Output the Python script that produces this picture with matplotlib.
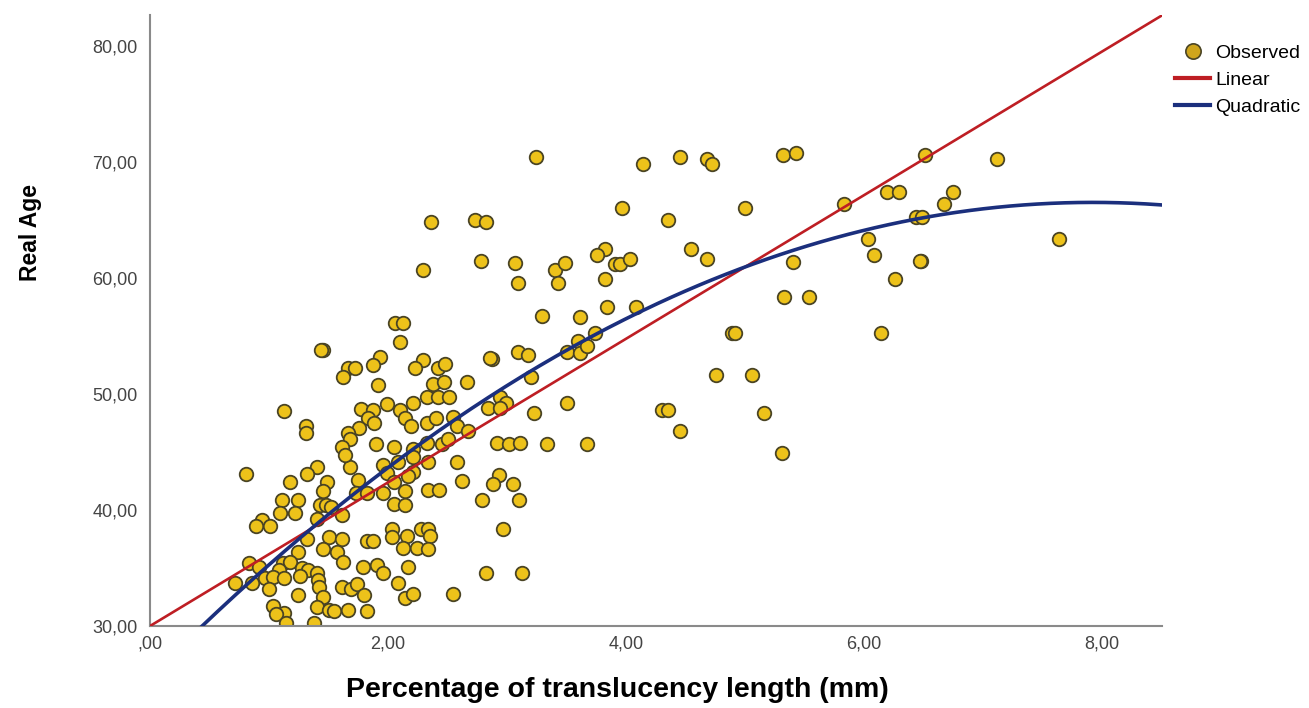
import numpy as np
import matplotlib
matplotlib.use("Agg")
import matplotlib.pyplot as plt
from matplotlib.ticker import FuncFormatter
from matplotlib.lines import Line2D

# observed points (x = translucency, y = real age)
trans_len = [
    0.81, 1.40, 1.32, 1.18, 1.49, 1.45, 1.68, 1.75, 1.96, 1.99,
    1.11, 1.24, 1.09, 1.22, 1.43, 1.48, 1.52, 0.94, 0.89, 1.01,
    1.40, 1.61, 1.73, 1.82, 1.96, 2.05, 1.32, 1.50, 1.61, 1.82,
    1.87, 2.03, 2.03, 1.24, 1.45, 1.57, 1.62, 0.83, 0.92, 1.12,
    1.18, 1.08, 1.28, 1.33, 1.40, 0.71, 0.86, 0.97, 1.03, 1.13,
    1.26, 1.41, 1.00, 1.42, 1.79, 1.91, 1.96, 1.61, 1.69, 1.74,
    1.80, 2.08, 1.24, 1.45, 1.03, 1.13, 1.06, 1.40, 1.50, 1.55,
    1.66, 1.82, 1.14, 1.38,
    2.08, 2.34, 2.58, 2.21, 2.17, 2.05, 2.14, 2.34, 2.43, 2.62,
    2.93, 2.88, 3.05, 2.79, 3.10, 2.14, 2.16, 2.28, 2.34, 2.35,
    2.13, 2.24, 2.34, 2.97, 2.17, 2.82, 3.13, 2.14, 2.21, 2.55,
    1.45, 1.44, 2.06, 2.10, 1.93, 1.87, 1.66, 1.72, 1.62, 1.92,
    1.13, 1.31, 1.31, 1.77, 1.87, 1.99, 1.83, 1.88, 1.76, 1.66,
    1.68, 1.61, 1.90, 2.05, 1.64, 2.10,
    2.13, 3.29, 2.29, 2.23, 2.42, 2.48, 2.38, 2.47, 2.66, 2.87,
    2.86, 3.09, 3.18, 3.50, 3.20, 2.33, 2.42, 2.51, 2.21, 2.14,
    2.19, 2.33, 2.40, 2.55, 2.58, 2.67, 2.84, 2.94, 2.99, 2.94,
    3.23, 3.50, 2.21, 2.21, 2.33, 2.45, 2.50, 2.92, 3.02, 3.11,
    3.34,
    3.24, 2.36, 2.73, 2.82, 2.29, 2.78, 3.07, 3.09, 3.40, 3.43,
    4.14, 4.45, 4.68, 4.72, 5.32, 5.43, 3.97, 4.35, 5.00, 5.83,
    3.82, 3.76, 3.49, 3.91, 3.95, 4.03, 3.82, 4.55, 4.68, 5.40,
    5.33, 5.54, 3.84, 4.08, 3.61,
    3.74, 3.60, 3.61, 3.67, 4.89, 4.92, 4.76, 5.06, 4.30, 4.35,
    5.16, 4.45, 3.67, 5.31,
    6.51, 7.12, 6.19, 6.29, 6.75, 6.67, 6.44, 6.49, 6.03, 6.08,
    6.48, 6.47, 6.26, 6.14, 7.64,
]
real_age = [
    43.1, 43.7, 43.1, 42.4, 42.4, 41.6, 43.7, 42.6, 43.9, 43.2,
    40.9, 40.9, 39.7, 39.7, 40.4, 40.4, 40.3, 39.1, 38.6, 38.6,
    39.2, 39.6, 41.5, 41.5, 41.5, 40.5, 37.5, 37.7, 37.5, 37.3,
    37.3, 38.4, 37.7, 36.4, 36.6, 36.4, 35.5, 35.4, 35.1, 35.4,
    35.5, 34.8, 35.0, 34.8, 34.6, 33.7, 33.7, 34.1, 34.2, 34.1,
    34.3, 34.0, 33.2, 33.4, 35.1, 35.3, 34.6, 33.4, 33.2, 33.6,
    32.7, 33.7, 32.7, 32.5, 31.7, 31.1, 31.0, 31.6, 31.4, 31.3,
    31.4, 31.3, 30.3, 30.3,
    44.1, 44.1, 44.1, 43.3, 42.9, 42.4, 41.6, 41.7, 41.7, 42.5,
    43.0, 42.2, 42.2, 40.9, 40.9, 40.4, 37.8, 38.4, 38.4, 37.8,
    36.7, 36.7, 36.6, 38.4, 35.1, 34.6, 34.6, 32.4, 32.8, 32.8,
    53.8, 53.8, 56.1, 54.5, 53.2, 52.5, 52.2, 52.2, 51.5, 50.8,
    48.5, 47.2, 46.6, 48.7, 48.6, 49.1, 47.9, 47.5, 47.1, 46.6,
    46.1, 45.4, 45.7, 45.4, 44.7, 48.6,
    56.1, 56.7, 52.9, 52.2, 52.2, 52.6, 50.9, 51.0, 51.0, 53.0,
    53.1, 53.6, 53.4, 53.6, 51.5, 49.7, 49.7, 49.7, 49.2, 47.9,
    47.2, 47.5, 47.9, 48.0, 47.2, 46.8, 48.8, 49.7, 49.2, 48.8,
    48.4, 49.2, 45.3, 44.6, 45.8, 45.7, 46.1, 45.8, 45.7, 45.8,
    45.7,
    70.4, 64.8, 65.0, 64.8, 60.7, 61.5, 61.3, 59.6, 60.7, 59.6,
    69.8, 70.4, 70.3, 69.8, 70.6, 70.8, 66.0, 65.0, 66.0, 66.4,
    62.5, 62.0, 61.3, 61.2, 61.2, 61.6, 59.9, 62.5, 61.6, 61.4,
    58.4, 58.4, 57.5, 57.5, 56.6,
    55.3, 54.6, 53.5, 54.1, 55.3, 55.3, 51.6, 51.6, 48.6, 48.6,
    48.4, 46.8, 45.7, 44.9,
    70.6, 70.3, 67.4, 67.4, 67.4, 66.4, 65.3, 65.3, 63.4, 62.0,
    61.5, 61.5, 59.9, 55.3, 63.4,
]

# fitted curves as shown on the chart (intercept first)
linear_coef = [30.0, 6.19]
quad_coef = [25.6, 10.33, -0.652]

x_ticks = [0, 2, 4, 6, 8]
y_ticks = [30, 40, 50, 60, 70, 80]

plt.rcParams['font.family'] = ['Liberation Sans', 'DejaVu Sans']

fig = plt.figure(figsize=(13.09, 7.08), dpi=100)
ax = fig.add_axes([0.1146, 0.1158, 0.7731, 0.8630])

ax.scatter(trans_len, real_age, s=95, color='#EDC21A', edgecolor='#4a4424',
           linewidth=1.3, zorder=2)

xs = np.linspace(0, 8.51, 300)
lin = linear_coef[0] + linear_coef[1] * xs
quad = quad_coef[0] + quad_coef[1] * xs + quad_coef[2] * xs ** 2
ax.plot(xs, lin, color='#BE1E24', linewidth=1.9, zorder=3)
ax.plot(xs, quad, color='#1B2F7D', linewidth=2.6, zorder=3)

ax.set_xlim(0, 8.504)
ax.set_ylim(30, 82.67)
ax.set_xticks(x_ticks)
ax.set_yticks(y_ticks)


def comma_fmt(v, pos):
    s = f"{v:.2f}".replace('.', ',')
    if s.startswith('0,'):
        s = s[1:]
    return s


ax.xaxis.set_major_formatter(FuncFormatter(comma_fmt))
ax.yaxis.set_major_formatter(FuncFormatter(comma_fmt))
ax.tick_params(length=0, labelsize=13, labelcolor='#444444')
ax.tick_params(axis='x', pad=7)
ax.tick_params(axis='y', pad=9)

for side in ['top', 'right']:
    ax.spines[side].set_visible(False)
for side in ['left', 'bottom']:
    ax.spines[side].set_color('#8a8a8a')
    ax.spines[side].set_linewidth(1.5)

fig.text(0.472, 0.026, 'Percentage of translucency length (mm)', ha='center',
         va='center', fontsize=20.5, fontweight='bold')
fig.text(0.023, 0.672, 'Real Age', ha='center', va='center', rotation=90,
         fontsize=16.5, fontweight='bold')

handles = [
    Line2D([], [], linestyle='none', marker='o', markersize=11,
           markerfacecolor='#CFA51C', markeredgecolor='#4a4424', markeredgewidth=1.2),
    Line2D([], [], color='#BE1E24', linewidth=3),
    Line2D([], [], color='#1B2F7D', linewidth=3),
]
fig.legend(handles, ['Observed', 'Linear', 'Quadratic'], loc='upper left',
           bbox_to_anchor=(0.898, 0.938), frameon=False, fontsize=14,
           handlelength=1.8, handletextpad=0.25, labelspacing=0.5,
           borderpad=0, borderaxespad=0)

fig.savefig('out.png', dpi=100)
